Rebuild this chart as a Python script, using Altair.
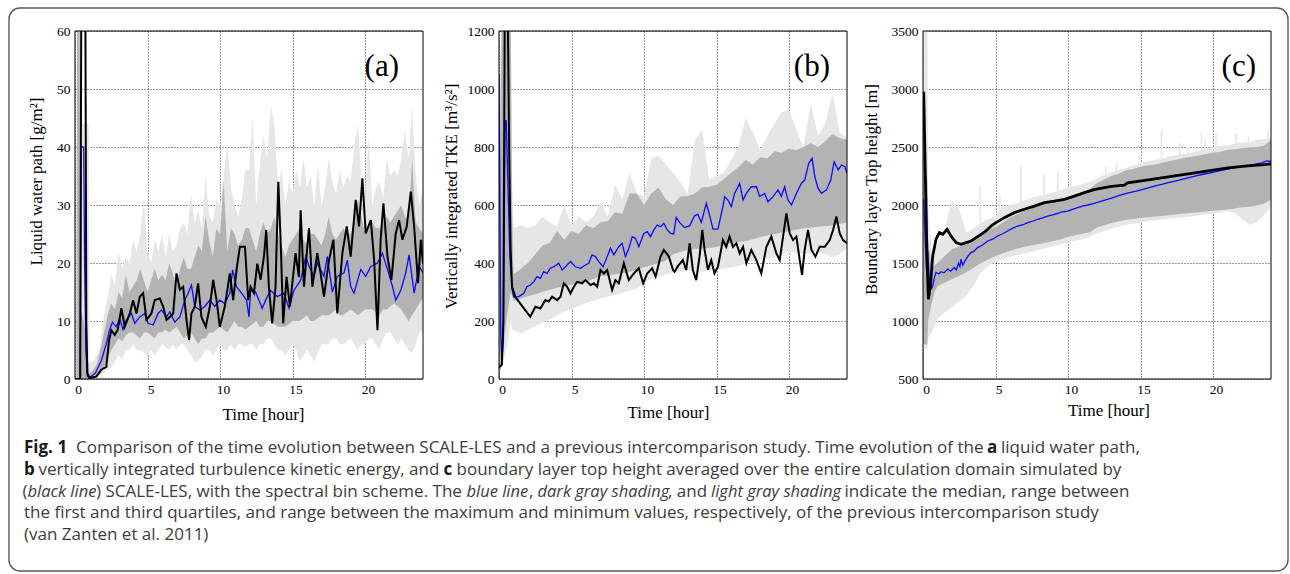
import altair as alt
import pandas as pd

# ============ panel (a): liquid water path [g/m2] ============
A_BAND_T = [0, 0.1, 0.15, 0.3, 0.4, 0.6, 0.8, 0.95] + [h + q for h in range(1, 24) for q in (0, 0.25, 0.5, 0.75)] + [24]
A_LMAX = [0, 0, 70, 70, 44, 44, 44, 44,
          3, 3, 4, 6,   11, 14, 18, 16,   22, 19, 21, 20,   24, 22, 25, 31,
          22, 20, 24, 22,   25, 21, 25, 22,   23, 26, 27, 25,   32, 27, 29, 26,
          35, 28, 27, 31,   30, 35, 41, 33,   30, 28, 31, 36,   36, 45, 30, 37,
          42, 38, 47, 44,   33, 36, 30, 34,   32, 36, 33, 38,   33, 35, 30, 37,
          30, 33, 38, 34,   32, 36, 33, 35,   34, 40, 44, 35,   31, 42, 30, 33,
          34, 31, 38, 35,   36, 35, 38, 43,   38, 47, 35, 30,   33]
A_LMIN = [0, 0, 0, 0, 0, 0, 0, 0,
          0, 0, 0.2, 0.5,   1, 1.5, 2, 3,   4, 3.5, 5, 5,   6, 5, 5, 4.5,
          4, 5, 4, 5,   6, 5.5, 5, 6,   5, 6, 6, 5,   4, 3, 3, 4,
          5, 5, 4, 5,   6, 5, 5, 6,   5, 6, 6, 5.5,   6, 6, 5, 6,
          6, 7, 7, 6,   5, 5, 4, 5,   6, 5, 3, 4,   5, 4, 3, 4.5,
          6, 6, 6, 7,   7, 6, 6, 6.5,   7, 6, 5, 6,   6, 7, 7, 6,
          5, 7, 8, 8,   7, 6, 7, 6,   5, 4.5, 6, 8,   8.5]
A_Q3 = [0, 0, 70, 70, 12, 10, 6, 2,
        1, 1.5, 2.5, 5,   8, 11, 13, 12,   15, 14, 18, 15,   16, 17, 19, 17,
        15, 17, 19, 17,   18, 17, 20, 18,   16, 19, 21, 19,   19, 21, 23, 22,
        28, 24, 21, 26,   25, 34, 22, 26,   25, 23, 24, 26,   26, 24, 22, 25,
        27, 25, 26, 28,   25, 23, 21, 23,   24, 25, 26, 24,   23, 25, 25, 24,
        23, 25, 28, 25,   24, 25, 26, 25,   25, 27, 31, 28,   25, 26, 27, 26,
        26, 27, 28, 27,   28, 29, 30, 28,   27, 38, 27, 26,   25]
A_Q1 = [0, 0, 0, 0, 0, 0, 0, 0,
        0, 0, 0.3, 1,   2, 3.5, 5, 6,   7, 6.5, 7.5, 8,   8, 7.5, 7, 8,
        8, 7.5, 7, 8,   8, 8.5, 8, 8.5,   9, 8, 7, 7.5,   8, 7, 6, 7,
        7, 8, 8, 8.5,   9, 8.5, 8, 9,   10, 9, 9, 8.5,   9, 9.5, 10, 9,
        9, 10, 10, 9.5,   9, 9, 9, 9.5,   10, 10, 10, 10.5,   11, 10, 10, 10.5,
        11, 11, 11, 11.5,   12, 11, 11, 11.5,   12, 11.5, 11, 11.5,   12, 12, 12, 11.5,
        11, 12, 12, 12.5,   13, 12.5, 12, 11,   10, 11, 12, 13,   14]
A_BLUE_T = [0, 0.36, 0.42, 0.5, 0.6, 0.66, 0.75, 0.85, 1.0, 1.4,
            1.82, 2.16, 2.39, 2.58, 2.85, 3.08, 3.31, 3.54, 3.89, 4.12,
            4.47, 4.81, 5.04, 5.39, 5.73, 5.96, 6.31, 6.54, 6.88, 7.23,
            7.57, 7.8, 8.03, 8.26, 8.61, 8.95, 9.3, 9.64, 9.99, 10.33,
            10.68, 10.87, 11.14, 11.49, 11.83, 12.0, 12.11, 12.45, 12.91, 13.15,
            13.49, 13.95, 14.41, 14.76, 15.10, 15.56, 15.91, 16.14, 16.48, 16.71,
            17.17, 17.40, 17.75, 18.09, 18.55, 18.78, 19.01, 19.24, 19.71, 20.05,
            20.40, 20.86, 21.20, 21.55, 21.89, 22.12, 22.47, 22.81, 23.04, 23.39,
            23.73, 24.0]
A_BLUE_V = [0, 0, 40, 40, 40, 20, 5, 0.5, 0.2, 1,
            3.2, 6.1, 8.5, 9.8, 9.0, 10.4, 8.5, 10.2, 11.3, 9.6,
            10.7, 11.3, 9.6, 9.3, 11.3, 11.9, 10.7, 11.6, 9.8, 10.7,
            13.6, 14.8, 16.2, 12.5, 11.9, 12.5, 13.6, 12.5, 13.6, 13.0,
            14.8, 18.8, 15.9, 14.8, 13.6, 10.7, 15.3, 15.0, 12.2, 13.6,
            15.3, 14.2, 14.8, 12.2, 15.3, 17.0, 21.1, 19.4, 17.7, 20.0,
            17.7, 21.1, 15.0, 17.7, 18.3, 20.5, 16.0, 14.8, 18.9, 17.7,
            19.4, 20.0, 21.7, 18.9, 16.0, 13.6, 15.3, 18.3, 21.4, 14.8,
            19.4, 18.3]
A_BLACK_T = [0, 0.36, 0.45, 0.6, 0.72, 0.78, 0.85, 1.0,
             1.47, 1.82, 2.16, 2.35, 2.51, 2.74, 2.95, 3.2, 3.43, 3.78,
             4.01, 4.24, 4.47, 4.7, 4.93, 5.27, 5.5, 5.85, 6.08, 6.31,
             6.54, 6.77, 7.0, 7.23, 7.46, 7.69, 7.87, 8.03, 8.26, 8.49,
             8.72, 9.02, 9.3, 9.53, 9.76, 9.99, 10.33, 10.68, 10.91, 11.14,
             11.37, 11.72, 11.95, 12.11, 12.34, 12.57, 12.80, 13.03, 13.19, 13.37,
             13.6, 13.83, 14.02, 14.18, 14.36, 14.59, 14.82, 15.21, 15.44, 15.56,
             15.79, 16.02, 16.14, 16.37, 16.71, 16.94, 17.17, 17.52, 17.82, 18.09,
             18.44, 18.74, 19.01, 19.36, 19.59, 19.82, 20.05, 20.4, 20.63, 20.86,
             21.08, 21.27, 21.55, 21.82, 22.12, 22.35, 22.58, 22.88, 23.16, 23.39,
             23.66, 23.85, 24.0]
A_BLACK_V = [0, 0, 80, 100, 60, 10, 1, 0.2,
             0.4, 1.6, 2.1, 6.7, 8.4, 7.6, 8.5, 12.2, 9.0, 11.3,
             13.6, 11.3, 14.2, 14.8, 10.2, 11.3, 13.6, 13.9, 12.5, 10.2,
             10.7, 11.3, 18.2, 15.4, 15.9, 10.2, 6.7, 11.3, 12.5, 16.5,
             10.7, 9.0, 12.5, 17.1, 13.6, 9.0, 12.5, 18.2, 13.6, 18.8,
             22.8, 22.8, 13.6, 15.9, 14.8, 19.9, 17.1, 21.1, 25.7, 15.9,
             9.6, 15.9, 34.0, 24.0, 9.6, 17.6, 12.5, 21.7, 17.6, 29.1,
             15.9, 22.8, 26.0, 15.9, 21.7, 18.2, 14.2, 20.5, 24.0, 11.3,
             21.7, 26.3, 21.1, 30.9, 26.3, 34.6, 25.1, 27.4, 20.5, 8.4,
             24.0, 30.3, 21.1, 17.1, 25.1, 27.4, 24.0, 26.3, 32.3, 26.3,
             16.5, 24.0, 19.9]

# ============ panel (b): vertically integrated TKE [m3/s2] ============
B_BAND_T = [0, 0.1, 0.2, 0.5, 0.8, 0.9] + [h + q for h in range(1, 24) for q in (0, 0.5)] + [24]
B_LMAX = [100, 1100, 1300, 1300, 1300, 700,
          520, 530,  520, 530,  560, 540,  525, 600,  530, 560,  540, 560,
          610, 560,  670, 620,  710, 640,  630, 760,  770, 740,  710, 680,
          640, 820,  860, 690,  700, 710,  755, 800,  900, 850,  790, 840,
          880, 920,  930, 860,  800, 950,  840, 880,  985, 850,  830]
B_LMIN = [30, 30, 40, 100, 200, 170,
          169, 157,  170, 182,  195, 205,  220, 232,  242, 252,  262, 270,
          278, 284,  290, 297,  305, 312,  330, 345,  352, 360,  365, 370,
          375, 372,  370, 375,  380, 380,  385, 390,  400, 405,  410, 415,
          420, 430,  440, 435,  430, 435,  440, 430,  420, 430,  450]
B_Q3 = [60, 900, 1300, 1300, 1300, 600,
        360, 380,  400, 430,  460, 470,  510, 480,  510, 500,  530, 520,
        540, 545,  575, 570,  640, 640,  600, 640,  660, 620,  600, 630,
        630, 640,  660, 663,  670, 690,  710, 730,  755, 740,  765, 760,
        785, 780,  795, 790,  800, 813,  800, 820,  845, 830,  825]
B_Q1 = [30, 30, 50, 200, 300, 290,
        270, 278,  285, 292,  300, 308,  315, 320,  325, 330,  335, 345,
        355, 357,  360, 365,  370, 377,  385, 392,  400, 408,  430, 438,
        445, 448,  450, 452,  455, 462,  470, 472,  475, 482,  490, 495,
        500, 505,  510, 515,  520, 522,  525, 527,  530, 535,  540]
B_BLUE_T = [0, 0.05, 0.12, 0.2, 0.3, 0.42, 0.5, 0.6, 0.75, 0.9,
            1.01, 1.36, 1.7, 1.93, 2.16, 2.39, 2.62, 2.85, 3.08, 3.31,
            3.54, 3.78, 4.12, 4.35, 4.58, 4.93, 5.27, 5.62, 5.96, 6.19,
            6.42, 6.65, 6.88, 7.18, 7.46, 7.69, 7.92, 8.26, 8.49, 8.72,
            8.95, 9.19, 9.42, 9.64, 9.99, 10.22, 10.45, 10.68, 10.91, 11.14,
            11.37, 11.6, 11.83, 12.05, 12.22, 12.45, 12.8, 13.15, 13.49, 13.72,
            13.95, 14.3, 14.53, 14.76, 15.1, 15.44, 15.56, 15.79, 16.02, 16.25,
            16.6, 16.83, 17.06, 17.4, 17.75, 17.98, 18.32, 18.55, 18.9, 19.24,
            19.47, 19.7, 19.93, 20.17, 20.51, 20.86, 21.08, 21.36, 21.59, 21.78,
            22.0, 22.24, 22.58, 22.88, 23.11, 23.39, 23.62, 23.85, 24.0]
B_BLUE_V = [1050, 700, 150, 60, 150, 890, 890, 700, 420, 310,
            283, 284, 295, 318, 324, 335, 353, 347, 370, 364,
            382, 387, 399, 376, 387, 405, 387, 382, 393, 399,
            428, 422, 405, 387, 422, 451, 428, 456, 468, 422,
            450, 491, 485, 456, 502, 508, 491, 514, 531, 525,
            537, 514, 502, 500, 557, 540, 522, 528, 563, 568,
            540, 606, 563, 517, 517, 594, 629, 617, 594, 640,
            675, 617, 640, 663, 663, 629, 640, 611, 629, 652,
            630, 663, 617, 600, 640, 675, 686, 744, 761, 698,
            658, 640, 652, 686, 749, 721, 738, 732, 709]
B_BLACK_T = [0, 0.2, 0.3, 0.4, 0.6, 0.7, 0.8, 0.9, 1.13, 1.47,
             1.82, 2.16, 2.51, 2.85, 3.2, 3.43, 3.66, 4.01, 4.24, 4.47,
             4.7, 4.93, 5.16, 5.39, 5.73, 5.96, 6.31, 6.54, 6.77, 7.0,
             7.23, 7.46, 7.8, 8.03, 8.26, 8.61, 8.95, 9.3, 9.64, 9.94,
             10.22, 10.56, 10.8, 11.14, 11.37, 11.72, 12.0, 12.11, 12.35, 12.68,
             12.91, 13.15, 13.37, 13.6, 13.83, 14.02, 14.18, 14.41, 14.64, 14.86,
             15.1, 15.44, 15.67, 15.9, 16.14, 16.37, 16.6, 16.83, 17.06, 17.4,
             17.75, 18.09, 18.44, 18.78, 19.13, 19.36, 19.59, 19.82, 20.05, 20.28,
             20.51, 20.74, 20.9, 21.08, 21.31, 21.55, 21.82, 22.12, 22.47, 22.81,
             23.04, 23.27, 23.5, 23.73, 24.0]
B_BLACK_V = [40, 50, 200, 1300, 1300, 800, 450, 318, 283, 260,
             237, 215, 249, 243, 272, 267, 284, 272, 284, 330,
             318, 295, 318, 335, 330, 341, 324, 330, 318, 376,
             364, 376, 307, 341, 330, 399, 341, 364, 382, 330,
             364, 382, 353, 422, 445, 422, 376, 370, 390, 410,
             376, 468, 376, 341, 422, 514, 445, 376, 410, 364,
             387, 479, 456, 491, 456, 468, 433, 456, 399, 445,
             410, 364, 456, 491, 433, 410, 491, 571, 502, 479,
             491, 410, 359, 445, 514, 445, 422, 456, 456, 479,
             514, 560, 502, 479, 468]

# ============ panel (c): boundary layer top height [m] ============
C_BAND_T = [0, 0.3, 0.35, 0.6, 0.8] + [h + q for h in range(1, 24) for q in (0, 0.5)] + [24]
C_LMAX = [3600, 3600, 2000, 1591, 1620,
          1660, 1800,  2040, 1960,  1760, 1800,  1850, 1877,  1900, 1990,  2000, 2020,
          2040, 2060,  2080, 2095,  2110, 2130,  2150, 2163,  2180, 2200,  2230, 2260,
          2280, 2300,  2320, 2340,  2360, 2380,  2390, 2400,  2420, 2430,  2440, 2450,
          2470, 2490,  2500, 2510,  2510, 2530,  2540, 2540,  2560, 2570,  2580]
C_LMIN = [760, 760, 850, 900, 960,
          1016, 1073,  1120, 1170,  1220, 1310,  1418, 1475,  1510, 1540,  1552, 1568,
          1582, 1598,  1614, 1630,  1645, 1660,  1675, 1692,  1705, 1722,  1755, 1775,
          1795, 1815,  1830, 1840,  1850, 1858,  1866, 1876,  1882, 1888,  1895, 1900,
          1910, 1918,  1925, 1935,  1947, 1930,  1880, 1830,  1850, 1910,  1990]
C_Q3 = [2500, 2200, 1700, 1450, 1480,
        1500, 1560,  1620, 1640,  1670, 1700,  1740, 1790,  1810, 1850,  1890, 1920,
        1950, 1975,  1995, 2015,  2030, 2050,  2070, 2090,  2110, 2140,  2190, 2220,
        2250, 2270,  2300, 2310,  2330, 2340,  2350, 2365,  2380, 2390,  2405, 2415,
        2425, 2440,  2450, 2460,  2475, 2480,  2490, 2495,  2500, 2510,  2560]
C_Q1 = [800, 800, 1000, 1150, 1250,
        1300, 1332,  1360, 1390,  1420, 1460,  1500, 1530,  1560, 1585,  1605, 1625,
        1640, 1652,  1663, 1675,  1690, 1705,  1725, 1740,  1752, 1765,  1805, 1825,
        1845, 1860,  1872, 1880,  1888, 1895,  1900, 1905,  1912, 1920,  1927, 1932,
        1937, 1945,  1950, 1955,  1962, 1970,  1980, 1985,  1995, 2010,  2048]
C_SPIKE_T = [3.95, 5.3, 6.75, 8.35, 9.3, 10.2, 12.6, 13.35, 15.0, 16.45,
             17.7, 18.3, 19.2, 19.45, 20.2, 21.6, 22.45, 23.8]
C_SPIKE_TOP = [2163, 2077, 2335, 2263, 2292, 2263, 2330, 2363, 2420, 2650,
               2535, 2500, 2621, 2564, 2621, 2621, 2592, 2650]
C_SPIKE_BASE = [1850, 1900, 2020, 2095, 2130, 2150, 2250, 2290, 2360, 2400,
                2430, 2440, 2470, 2490, 2500, 2530, 2540, 2575]
C_BLUE_T = [0, 0.05, 0.15, 0.25, 0.33, 0.42, 0.55, 0.67, 0.8, 0.9,
            1.1, 1.24, 1.45, 1.7, 1.9, 2.16, 2.3, 2.45, 2.55, 2.62,
            2.75, 2.9, 3.1, 3.31, 3.5, 3.77, 4.1, 4.46, 4.8, 5.15,
            5.5, 5.84, 6.2, 6.53, 6.9, 7.22, 7.6, 7.91, 8.25, 8.6,
            8.95, 9.29, 9.6, 9.98, 10.3, 10.67, 11.0, 11.36, 11.75, 12.14,
            12.6, 13.0, 13.6, 14.16, 14.7, 15.3, 15.9, 16.46, 17.0, 17.6,
            18.2, 18.76, 19.3, 19.9, 20.5, 21.06, 21.6, 22.2, 22.8, 23.36,
            23.7, 24.0]
C_BLUE_V = [2050, 2040, 1700, 1420, 1600, 1380, 1274, 1300, 1380, 1418,
            1405, 1425, 1415, 1447, 1430, 1461, 1440, 1500, 1470, 1533,
            1480, 1520, 1560, 1590, 1600, 1633, 1655, 1690, 1705, 1733,
            1752, 1776, 1800, 1819, 1830, 1848, 1862, 1877, 1890, 1905,
            1915, 1928, 1940, 1948, 1962, 1977, 1990, 2000, 2012, 2026,
            2045, 2060, 2085, 2105, 2120, 2140, 2160, 2177, 2195, 2212,
            2232, 2249, 2265, 2280, 2296, 2311, 2325, 2338, 2350, 2363,
            2380, 2375]
C_BLACK_T = [0, 0.05, 0.14, 0.28, 0.37, 0.51, 0.67, 0.9, 1.13, 1.36,
             1.66, 1.93, 2.28, 2.62, 2.97, 3.31, 3.66, 4.0, 4.34, 4.69,
             5.03, 5.61, 6.3, 6.99, 7.68, 8.37, 9.06, 9.75, 10.44, 11.13,
             11.86, 13.0, 13.9, 14.1, 15.3, 16.46, 17.6, 18.76, 19.9, 21.06,
             22.2, 23.36, 24.0]
C_BLACK_V = [2965, 2965, 2392, 1532, 1188, 1303, 1561, 1704, 1761, 1747,
             1790, 1733, 1676, 1661, 1676, 1690, 1719, 1747, 1776, 1819,
             1848, 1891, 1934, 1963, 1991, 2020, 2034, 2049, 2077, 2106,
             2134, 2160, 2172, 2190, 2212, 2234, 2255, 2277, 2298, 2320,
             2335, 2345, 2355]

X_TICKS = [0, 5, 10, 15, 20]
A_Y_TICKS = [0, 10, 20, 30, 40, 50, 60]
B_Y_TICKS = [0, 200, 400, 600, 800, 1000, 1200]
C_Y_TICKS = [500, 1000, 1500, 2000, 2500, 3000, 3500]

CAPTION = [
    # (text, x, baseline, style)  style: r = regular, b = bold, i = italic
    ("Fig. 1", 25, 453, "b"),
    ("Comparison of the time evolution between SCALE-LES and a previous intercomparison study. Time evolution of the", 77, 453, "r"),
    ("a", 988, 453, "b"),
    ("liquid water path,", 1002, 453, "r"),
    ("b", 25, 474.5, "b"),
    ("vertically integrated turbulence kinetic energy, and", 39.5, 474.5, "r"),
    ("c", 444.5, 474.5, "b"),
    ("boundary layer top height averaged over the entire calculation domain simulated by", 457.5, 474.5, "r"),
    ("(", 23.5, 496.5, "r"),
    ("black line", 28.5, 496.5, "i"),
    (") SCALE-LES, with the spectral bin scheme. The", 97, 496.5, "r"),
    ("blue line", 467.5, 496.5, "i"),
    (",", 530, 496.5, "r"),
    ("dark gray shading", 538.5, 496.5, "i"),
    (", and", 669, 496.5, "r"),
    ("light gray shading", 712, 496.5, "i"),
    ("indicate the median, range between", 845.5, 496.5, "r"),
    ("the first and third quartiles, and range between the maximum and minimum values, respectively, of the previous intercomparison study", 25, 518, "r"),
    ("(van Zanten et al. 2011)", 25, 540, "r"),
]

# ---------------- styling ----------------
SERIF = "Liberation Serif"
SANS = "Open Sans"
LIGHT = "#e6e6e6"
DARK = "#b3b3b3"
BLUE = "#0a0aff"
PW, PH = 348, 348
OX, OY = 76, 31          # absolute origin of panel (a) plot area
ONE = pd.DataFrame({"k": [0]})


def x_axis(tx, ty):
    return alt.Axis(values=X_TICKS, format="d", title="Time [hour]", titleFont=SERIF, titleFontSize=17,
                    titleFontWeight="normal", titleColor="black", titleX=tx, titleY=ty,
                    titleAlign="center", titleBaseline="middle",
                    labelFont=SERIF, labelFontSize=13.5, labelColor="black", labelPadding=3,
                    labelOffset=3, labelFlush=False, ticks=False, domain=False,
                    grid=True, gridColor="black", gridDash=[1, 2], gridWidth=0.8, gridOpacity=1)


def y_axis(values, title, tx, ty):
    return alt.Axis(values=values, format="d", title=title, titleFont=SERIF, titleFontSize=17,
                    titleFontWeight="normal", titleColor="black", titleX=tx, titleY=ty,
                    titleAngle=270, titleAlign="center", titleBaseline="middle",
                    labelFont=SERIF, labelFontSize=13.5, labelColor="black", labelPadding=5,
                    labelFlush=False, ticks=False, domain=False,
                    grid=True, gridColor="black", gridDash=[1, 2], gridWidth=0.8, gridOpacity=1)


def panel(band_t, lmin, lmax, q1, q3, blue_t, blue_v, black_t, black_v,
          ydom, yticks, ytitle, ytx, yty, xtx, xty, label, label_x, black_w,
          spikes=None, extra=()):
    assert len(band_t) == len(lmin) == len(lmax) == len(q1) == len(q3)
    assert len(blue_t) == len(blue_v) and len(black_t) == len(black_v)
    xs = alt.Scale(domain=[0, 24], nice=False, zero=False)
    ys = alt.Scale(domain=ydom, nice=False, zero=False)
    xa = x_axis(xtx, xty)
    ya = y_axis(yticks, ytitle, ytx, yty)

    def X():
        return alt.X("t:Q", scale=xs, axis=xa)

    def Y(f):
        return alt.Y(f, scale=ys, axis=ya)

    layers = []
    layers.append(alt.Chart(pd.DataFrame({"t": band_t, "lo": lmin, "hi": lmax}))
                  .mark_area(color=LIGHT, clip=True)
                  .encode(x=X(), y=Y("lo:Q"), y2=alt.Y2("hi:Q")))
    if spikes is not None:
        st, stop, sbase = spikes
        layers.append(alt.Chart(pd.DataFrame({"t": st, "lo": sbase, "hi": stop}))
                      .mark_rule(color=LIGHT, strokeWidth=1.6, clip=True)
                      .encode(x=X(), y=Y("lo:Q"), y2=alt.Y2("hi:Q")))
    layers.append(alt.Chart(pd.DataFrame({"t": band_t, "lo": q1, "hi": q3}))
                  .mark_area(color=DARK, clip=True)
                  .encode(x=X(), y=Y("lo:Q"), y2=alt.Y2("hi:Q")))
    layers.append(alt.Chart(pd.DataFrame({"t": blue_t, "v": blue_v}))
                  .mark_line(color=BLUE, strokeWidth=1.3, clip=True)
                  .encode(x=X(), y=Y("v:Q")))
    layers.append(alt.Chart(pd.DataFrame({"t": black_t, "v": black_v}))
                  .mark_line(color="black", strokeWidth=black_w, clip=True)
                  .encode(x=X(), y=Y("v:Q")))
    layers.append(alt.Chart(ONE).mark_rect(fillOpacity=0, stroke="black", strokeWidth=1)
                  .encode(x=alt.value(0), x2=alt.value(PW), y=alt.value(0), y2=alt.value(PH)))
    layers.append(alt.Chart(ONE).mark_text(text=label, font=SERIF, fontSize=31, align="right",
                                            baseline="alphabetic", color="black")
                  .encode(x=alt.value(label_x), y=alt.value(45)))
    layers.extend(extra)
    return alt.layer(*layers).properties(width=PW, height=PH)


# border box and caption live in panel (a)'s coordinate frame
extra_a = [alt.Chart(ONE).mark_rect(fillOpacity=0, stroke="#5a5a5a", strokeWidth=1.4, cornerRadius=11)
           .encode(x=alt.value(10 - OX), x2=alt.value(1289 - OX), y=alt.value(8 - OY), y2=alt.value(571 - OY))]
STYLE = {
    "r": dict(fontWeight="normal", fontStyle="normal", fontSize=17, color="#3c3c3c"),
    "b": dict(fontWeight="bold", fontStyle="normal", fontSize=17, color="#1a1a1a"),
    "i": dict(fontWeight="normal", fontStyle="italic", fontSize=16.5, color="#3c3c3c"),
}
for text, cx, cy, st in CAPTION:
    extra_a.append(
        alt.Chart(ONE).mark_text(text=text, font=SANS, align="left", baseline="alphabetic", **STYLE[st])
        .encode(x=alt.value(cx - OX), y=alt.value(cy - OY)))

pa = panel(A_BAND_T, A_LMIN, A_LMAX, A_Q1, A_Q3, A_BLUE_T, A_BLUE_V, A_BLACK_T, A_BLACK_V,
           [0, 60], A_Y_TICKS, "Liquid water path [g/m\u00b2]", -38.5, 150, 188, 35, "(a)", 324, 2.0,
           extra=extra_a)
pb = panel(B_BAND_T, B_LMIN, B_LMAX, B_Q1, B_Q3, B_BLUE_T, B_BLUE_V, B_BLACK_T, B_BLACK_V,
           [0, 1200], B_Y_TICKS, "Vertically integrated TKE [m\u00b3/s\u00b2]", -48, 165, 169, 33.5, "(b)", 331, 2.0)
pc = panel(C_BAND_T, C_LMIN, C_LMAX, C_Q1, C_Q3, C_BLUE_T, C_BLUE_V, C_BLACK_T, C_BLACK_V,
           [500, 3500], C_Y_TICKS, "Boundary layer Top height [m]", -52, 158, 185.5, 31.7, "(c)", 333, 2.8,
           spikes=(C_SPIKE_T, C_SPIKE_TOP, C_SPIKE_BASE))

chart = (alt.hconcat(pa, pb, pc, spacing=76, bounds="flush")
         .properties(padding={"left": 8, "top": 7, "right": 0, "bottom": 0})
         .configure_view(strokeWidth=0))

chart.save("out.html", embed_options={"renderer": "svg", "actions": False})
